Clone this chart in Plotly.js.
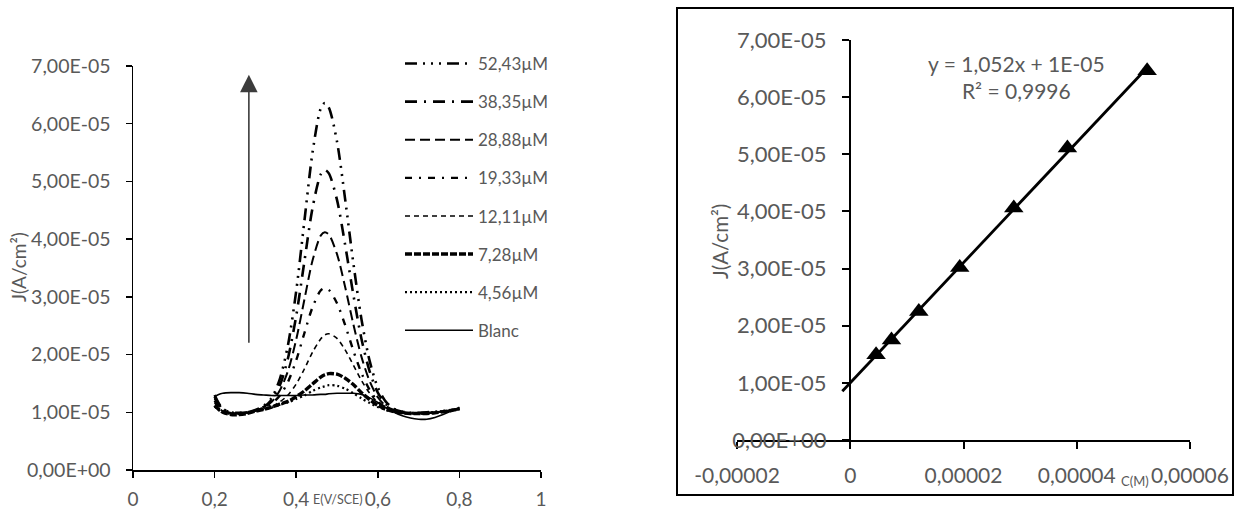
<!DOCTYPE html>
<html>
<head>
<meta charset="utf-8">
<script src="https://cdn.plot.ly/plotly-3.0.1.min.js"></script>
<style>html,body{margin:0;padding:0;background:#fff;}#chart{width:1235px;height:511px;}</style>
</head>
<body>
<div id="chart"></div>
<script>
// ---------- Left chart: voltammograms (J in units of 1e-5 A/cm²) ----------
const J_UNIT = 1e-5;
const E_V = [0.20,0.21,0.22,0.24,0.26,0.28,0.30,0.32,0.34,0.36,0.38,0.40,0.42,0.44,0.46,0.47,0.48,0.50,0.52,0.54,0.56,0.58,0.60,0.62,0.64,0.66,0.68,0.70,0.72,0.74,0.76,0.78,0.80];
const J_52_43 = [1.30,1.16,1.06,1.00,0.99,1.00, 1.04,1.11,1.25,1.58,2.17,3.10,4.31,5.50,6.26,6.36,6.28,5.69,4.69,3.59,2.61,1.89,1.43,1.18,1.06,1.01, 0.99,0.99,1.00,1.01,1.02,1.04,1.07];
const J_38_35 = [1.27,1.14,1.05,1.00,0.99,1.00, 1.03,1.09,1.22,1.47,1.94,2.67,3.61,4.54,5.12,5.20,5.14,4.68,3.90,3.04,2.27,1.71,1.34,1.14,1.05,1.01, 0.99,0.99,0.99,1.00,1.02,1.04,1.06];
const J_28_88 = [1.24,1.12,1.04,0.99,0.98,0.99, 1.03,1.08,1.18,1.38,1.72,2.26,2.95,3.63,4.06,4.12,4.08,3.74,3.17,2.53,1.96,1.54,1.26,1.11,1.04,1.00, 0.98,0.98,0.99,1.00,1.01,1.03,1.06];
const J_19_33 = [1.20,1.10,1.03,0.99,0.98,0.99, 1.03,1.07,1.15,1.29,1.53,1.90,2.37,2.82,3.11,3.15,3.12,2.89,2.51,2.07,1.68,1.39,1.19,1.08,1.02,0.99, 0.98,0.98,0.98,0.99,1.01,1.03,1.06];
const J_12_11 = [1.16,1.08,1.02,0.98,0.97,0.99, 1.02,1.06,1.10,1.18,1.30,1.49,1.75,2.04,2.27,2.34,2.36,2.28,2.08,1.82,1.55,1.33,1.17,1.08,1.02,0.99, 0.98,0.97,0.98,0.99,1.01,1.03,1.05];
const J_7_28  = [1.12,1.05,1.00,0.96,0.96,0.98, 1.02,1.05,1.09,1.14,1.19,1.27,1.37,1.49,1.61,1.65,1.67,1.66,1.59,1.48,1.34,1.22,1.12,1.05,1.01,0.99, 0.98,0.98,0.98,0.99,1.01,1.03,1.06];
const J_4_56  = [1.10,1.04,1.00,0.97,0.97,0.99, 1.02,1.05,1.08,1.13,1.17,1.23,1.29,1.37,1.43,1.45,1.47,1.46,1.41,1.33,1.24,1.16,1.09,1.04,1.01,0.99, 0.98,0.98,0.99,1.00,1.01,1.03,1.06];
const J_BLANC = [1.27,1.31,1.33,1.34,1.34,1.33, 1.31,1.30,1.29,1.29,1.29,1.29,1.30,1.30,1.31,1.31,1.32,1.33,1.33,1.33,1.31,1.25,1.17,1.08,1.00,0.94, 0.90,0.88,0.88,0.91,0.96,1.02,1.09];

const SERIES_NAMES = ['52,43µM','38,35µM','28,88µM','19,33µM','12,11µM','7,28µM','4,56µM','Blanc'];
const SERIES_J = [J_52_43,J_38_35,J_28_88,J_19_33,J_12_11,J_7_28,J_4_56,J_BLANC];
const SERIES_DASH = ['12px,6px,2px,6px,2px,6px,2px,6px','12px,7px,2px,7px','10px,5px','7px,7px,2px,7px','5px,4px','7px,2px','2px,3px','solid'];
const SERIES_WIDTH = [2.6,2.6,2,2.4,1.6,3.4,2.2,1.6];

const LEFT_X_TICKS = [0,0.2,0.4,0.6,0.8,1];
const LEFT_X_TEXT = ['0','0,2','0,4','0,6','0,8','1'];
const Y_TICKS = [0,1e-5,2e-5,3e-5,4e-5,5e-5,6e-5,7e-5];
const Y_TEXT = ['0,00E+00','1,00E-05','2,00E-05','3,00E-05','4,00E-05','5,00E-05','6,00E-05','7,00E-05'];

// arrow (E, J) start and end
const ARROW_E = 0.284;
const ARROW_J_FROM = 2.18e-5;
const ARROW_J_TO = 6.85e-5;

// ---------- Right chart: calibration ----------
const CONC_M = [4.56e-6,7.28e-6,12.11e-6,19.33e-6,28.88e-6,38.35e-6,52.43e-6];
const PEAK_J = [1.49e-5,1.75e-5,2.25e-5,3.02e-5,4.06e-5,5.11e-5,6.46e-5];
const TREND_BACKCAST_X = -1.4e-6;
const RIGHT_X_TICKS = [-0.00002,0,0.00002,0.00004,0.00006];
const RIGHT_X_TEXT = ['-0,00002','0','0,00002','0,00004','0,00006'];
const EQ_TEXT = 'y = 1,052x + 1E-05<br>R² = 0,9996';

const GRAY = '#595959';
const FONT = 'Lato, "Open Sans", sans-serif';

const data = [];
SERIES_NAMES.forEach((name, i) => {
  data.push({
    type: 'scatter', mode: 'lines', name: name, legendgroup: 'g' + i,
    x: E_V, y: SERIES_J[i].map(v => v * J_UNIT),
    line: {color: '#000', width: SERIES_WIDTH[i], dash: SERIES_DASH[i], shape: 'spline', smoothing: 0.8},
    xaxis: 'x', yaxis: 'y', hoverinfo: 'skip'
  });
});

// least squares trendline from the points
const n = CONC_M.length;
const mx = CONC_M.reduce((a,b)=>a+b,0)/n;
const my = PEAK_J.reduce((a,b)=>a+b,0)/n;
let sxy = 0, sxx = 0;
for (let i = 0; i < n; i++) { sxy += (CONC_M[i]-mx)*(PEAK_J[i]-my); sxx += (CONC_M[i]-mx)**2; }
const slope = sxy / sxx, icpt = my - slope * mx;
const trendX = [TREND_BACKCAST_X, Math.max(...CONC_M)];
data.push({
  type: 'scatter', mode: 'lines', showlegend: false,
  x: trendX, y: trendX.map(x => slope * x + icpt),
  line: {color: '#000', width: 2.8}, xaxis: 'x2', yaxis: 'y2', hoverinfo: 'skip'
});
data.push({
  type: 'scatter', mode: 'markers', showlegend: false,
  x: CONC_M, y: PEAK_J,
  marker: {symbol: 'triangle-up', size: 17, color: '#000'},
  xaxis: 'x2', yaxis: 'y2', hoverinfo: 'skip'
});

const W = 1235, H = 511;
const px = v => v / W;
const py = v => (H - v) / H;
const ann = (x, y, text, size, extra) => Object.assign({
  xref: 'paper', yref: 'paper', x: px(x), y: py(y), xanchor: 'center', yanchor: 'middle',
  text: text, showarrow: false, font: {family: FONT, size: size, color: GRAY}
}, extra || {});

const layout = {
  width: W, height: H,
  margin: {l: 0, r: 0, t: 0, b: 0},
  paper_bgcolor: '#fff', plot_bgcolor: 'rgba(0,0,0,0)',
  showlegend: true,
  font: {family: FONT, color: GRAY},
  xaxis: {
    domain: [px(133), px(541)], range: [0, 1], anchor: 'y',
    showgrid: false, zeroline: false, showline: true, linecolor: '#000', linewidth: 1.5,
    ticks: 'outside', ticklen: 6, tickwidth: 1.5, tickcolor: '#000',
    tickmode: 'array', tickvals: LEFT_X_TICKS, ticktext: LEFT_X_TEXT,
    tickfont: {family: FONT, size: 19, color: GRAY}, ticklabelstandoff: 6
  },
  yaxis: {
    domain: [py(470), py(66)], range: [0, 7e-5], anchor: 'x',
    showgrid: false, zeroline: false, showline: true, linecolor: '#000', linewidth: 1.5,
    ticks: 'outside', ticklen: 6, tickwidth: 1.5, tickcolor: '#000',
    tickmode: 'array', tickvals: Y_TICKS, ticktext: Y_TEXT,
    tickfont: {family: FONT, size: 19.5, color: GRAY}, ticklabelstandoff: 11
  },
  xaxis2: {
    domain: [px(737), px(1190)], range: [-0.00002, 0.00006], anchor: 'y2',
    showgrid: false, zeroline: false, showline: true, linecolor: '#000', linewidth: 2,
    ticks: 'outside', ticklen: 7, tickwidth: 2, tickcolor: '#000',
    tickmode: 'array', tickvals: RIGHT_X_TICKS, ticktext: RIGHT_X_TEXT,
    tickfont: {family: FONT, size: 21, color: GRAY}, ticklabelstandoff: 9
  },
  yaxis2: {
    domain: [py(440), py(40)], range: [0, 7e-5], anchor: 'free', position: px(850),
    showgrid: false, zeroline: false, showline: true, linecolor: '#000', linewidth: 2,
    ticks: 'outside', ticklen: 7, tickwidth: 2, tickcolor: '#000',
    tickmode: 'array', tickvals: Y_TICKS, ticktext: Y_TEXT,
    tickfont: {family: FONT, size: 22, color: GRAY}, ticklabelstandoff: 11
  },
  legend: {
    x: px(400), y: py(46), xanchor: 'left', yanchor: 'top',
    font: {family: FONT, size: 17, color: GRAY},
    itemwidth: 68, tracegroupgap: 13, bgcolor: 'rgba(0,0,0,0)', borderwidth: 0
  },
  shapes: [
    {type: 'rect', xref: 'paper', yref: 'paper', x0: px(677), x1: px(1233), y0: py(495), y1: py(8),
     line: {color: '#000', width: 2}, fillcolor: 'rgba(0,0,0,0)'}
  ],
  annotations: [
    {xref: 'x', yref: 'y', x: ARROW_E, y: ARROW_J_TO, ax: ARROW_E, ay: ARROW_J_FROM, axref: 'x', ayref: 'y',
     text: '', showarrow: true, arrowhead: 2, arrowsize: 2.2, arrowwidth: 1.6, arrowcolor: '#3c3c3c'},
    ann(18, 267, 'J(A/cm²)', 19, {textangle: -90}),
    ann(338, 499, 'E(V/SCE)', 12.5),
    ann(720, 241, 'J(A/cm²)', 20.5, {textangle: -90}),
    ann(1135, 481, 'C(M)', 13),
    ann(1016, 77, EQ_TEXT, 21, {align: 'center'})
  ]
};

Plotly.newPlot('chart', data, layout, {staticPlot: true, displayModeBar: false});
</script>
</body>
</html>
